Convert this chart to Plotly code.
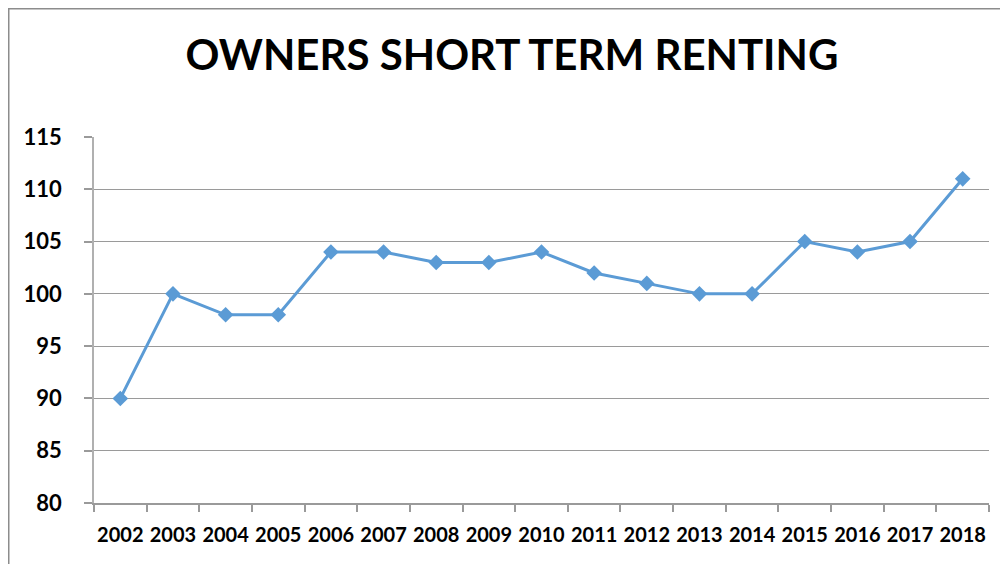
import plotly.graph_objects as go

years = [str(y) for y in range(2002, 2019)]
values = [90, 100, 98, 98, 104, 104, 103, 103, 104, 102, 101, 100, 100, 105, 104, 105, 111]
y_ticks = [80, 85, 90, 95, 100, 105, 110, 115]
title_text = "OWNERS SHORT TERM RENTING"

# page has an 8px body margin, so the figure is sized to fill the rest of the window
OFF = 8
W, H = 1008 - OFF, 564 - OFF
L, R, T, B = 94 - OFF, 19, 137 - OFF, 61
pw, ph = W - L - R, H - T - B

fig = go.Figure()
fig.add_trace(go.Scatter(
    x=years, y=values, mode="lines+markers",
    line=dict(color="#5B9BD5", width=3),
    marker=dict(symbol="diamond", size=12, color="#5B9BD5"),
    showlegend=False, hoverinfo="x+y",
))

font_family = "Lato, 'Open Sans', sans-serif"
fig.update_layout(
    width=W, height=H,
    margin=dict(l=L, r=R, t=T, b=B, pad=0, autoexpand=False),
    paper_bgcolor="white", plot_bgcolor="white",
    title=dict(text="<b>" + title_text + "</b>", x=(512 - OFF) / W, xanchor="center",
               y=1 - (55 - OFF) / H, yanchor="middle",
               font=dict(family=font_family, size=42, color="#000000")),
    font=dict(family=font_family, color="#000000"),
)
fig.update_xaxes(
    type="category", range=[-0.5, len(years) - 0.5],
    tickson="boundaries", ticks="outside", ticklen=7,
    tickcolor="#9A9A9A", tickwidth=1.5, tickangle=0, automargin=False,
    showline=True, linecolor="#9A9A9A", linewidth=1.5,
    showgrid=False, ticklabelstandoff=13,
    tickfont=dict(family=font_family, size=20, color="#000000", weight="bold"),
)
fig.update_yaxes(
    range=[80, 115], tickvals=y_ticks, ticktext=[str(v) for v in y_ticks],
    ticks="outside", ticklen=8, tickcolor="#9A9A9A", tickwidth=1.5, automargin=False,
    showline=True, linecolor="#B0B0B0", linewidth=1.5,
    showgrid=True, gridcolor="#9A9A9A", gridwidth=1.2, zeroline=False,
    ticklabelstandoff=18,
    tickfont=dict(family=font_family, size=22, color="#000000", weight="bold"),
)
# chart border (partially cropped in the reference)
fig.add_shape(type="rect", xref="paper", yref="paper",
              x0=(0.75 - L) / pw, x1=(W + 30 - L) / pw,
              y0=(H - B - (H + 30)) / ph, y1=(H - B - 0.75) / ph,
              line=dict(color="#8C8C8C", width=1.5), layer="below")

fig.write_html("out.html")
